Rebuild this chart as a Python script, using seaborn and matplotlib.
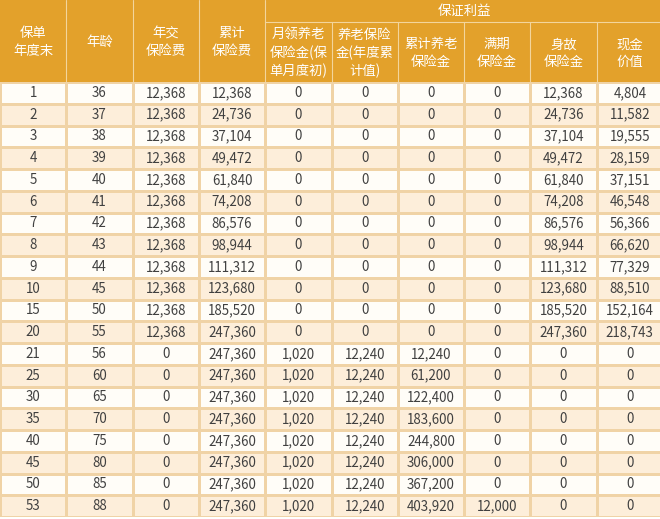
import numpy as np
import pandas as pd
import matplotlib
matplotlib.use("Agg")
import matplotlib.pyplot as plt
from matplotlib.colors import ListedColormap
from matplotlib.patches import Rectangle
import seaborn as sns

sns.set_theme(style="white")
plt.rcParams['font.family'] = ['Noto Sans CJK SC', 'DejaVu Sans']

# ---- data ----
group_title = "保证利益"
headers = ["保单\n年度末", "年龄", "年交\n保险费", "累计\n保险费",
           "月领养老\n保险金(保\n单月度初)", "养老保险\n金(年度累\n计值)",
           "累计养老\n保险金", "满期\n保险金", "身故\n保险金", "现金\n价值"]
policy_year = [1, 2, 3, 4, 5, 6, 7, 8, 9, 10, 15, 20, 21, 25, 30, 35, 40, 45, 50, 53]
age = [36, 37, 38, 39, 40, 41, 42, 43, 44, 45, 50, 55, 56, 60, 65, 70, 75, 80, 85, 88]
annual_premium = [12368] * 12 + [0] * 8
cum_premium = [12368, 24736, 37104, 49472, 61840, 74208, 86576, 98944, 111312,
               123680, 185520, 247360, 247360, 247360, 247360, 247360, 247360,
               247360, 247360, 247360]
monthly_pension = [0] * 12 + [1020] * 8
annual_pension = [0] * 12 + [12240] * 8
cum_pension = [0] * 12 + [12240, 61200, 122400, 183600, 244800, 306000, 367200, 403920]
maturity = [0] * 19 + [12000]
death_benefit = [12368, 24736, 37104, 49472, 61840, 74208, 86576, 98944, 111312,
                 123680, 185520, 247360] + [0] * 8
cash_value = [4804, 11582, 19555, 28159, 37151, 46548, 56366, 66620, 77329,
              88510, 152164, 218743] + [0] * 8

cols = [policy_year, age, annual_premium, cum_premium, monthly_pension,
        annual_pension, cum_pension, maturity, death_benefit, cash_value]
df = pd.DataFrame({h: c for h, c in zip(headers, cols)})
annot = df.apply(lambda s: s.map(lambda v: f"{v:,}")).values
nrows, ncols = df.shape
band = np.array([[i % 2] * ncols for i in range(nrows)])

# ---- figure ----
W, H = 660, 519
fig = plt.figure(figsize=(W / 100, H / 100), dpi=100)
colw = 66.3
total_w = colw * ncols
header_h = 82
data_bottom = 517

HEAD = "#E3A12B"
HLINE = "#F3D59C"
DLINE = "#F0D3A6"
TXT = "#404040"

# data area via seaborn heatmap
ax = fig.add_axes([0, (H - data_bottom) / H, total_w / W, (data_bottom - header_h) / H])
sns.heatmap(band, ax=ax, cmap=ListedColormap(["#FFFDF8", "#FDEEDA"]), cbar=False,
            annot=annot, fmt="", annot_kws={"color": TXT, "fontsize": 9.6},
            linewidths=0.75, linecolor=DLINE, xticklabels=False, yticklabels=False)
ax.set_xlabel("")
ax.set_ylabel("")

# header area
hx = fig.add_axes([0, (H - header_h) / H, total_w / W, header_h / H])
hx.set_xlim(0, total_w)
hx.set_ylim(header_h, 0)
hx.axis("off")
hx.add_patch(Rectangle((0, 0), total_w, header_h, facecolor=HEAD, edgecolor="none"))
top_h = 22
for i, h in enumerate(headers):
    x0 = i * colw
    if i < 4:
        y0, y1 = 0, header_h
    else:
        y0, y1 = top_h, header_h
    hx.text(x0 + colw / 2, (y0 + y1) / 2 + 1, h, ha="center", va="center",
            color="white", fontsize=9.6, linespacing=1.3)
hx.text(4 * colw + 6 * colw / 2, top_h / 2, group_title, ha="center", va="center",
        color="white", fontsize=9.6)
# header lines
for i in range(1, ncols):
    y0 = 0 if i <= 4 else top_h
    hx.plot([i * colw, i * colw], [y0, header_h], color=HLINE, lw=0.8)
hx.plot([4 * colw, total_w], [top_h, top_h], color=HLINE, lw=0.8)

fig.savefig("out.png", dpi=100, facecolor="white")
